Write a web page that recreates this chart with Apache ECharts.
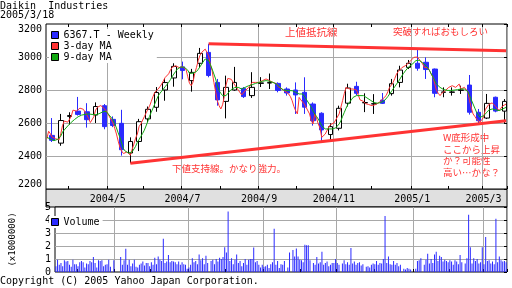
<!DOCTYPE html>
<html><head><meta charset="utf-8">
<script src="https://cdn.jsdelivr.net/npm/echarts@6.0.0/dist/echarts.min.js"></script>
<style>html,body{margin:0;padding:0;background:#fff}#c{width:512px;height:288px}</style>
</head><body><div id="c"></div><script>
// ---- axis: weekdays 2004-03-15 .. 2005-03-18 ----
const startDay = [2004, 2, 15];
const endDay = [2005, 2, 18];
const majorTickDates = ['2004-05-03','2004-07-01','2004-09-01','2004-11-01','2005-01-03','2005-03-01'];
const majorTickLabels = ['2004/5','2004/7','2004/9','2004/11','2005/1','2005/3'];
const minorTickDates = ['2004-04-01','2004-06-01','2004-08-02','2004-10-01','2004-12-01','2005-02-01'];

// ---- weekly candles (one per week, shown on the Thursday) ----
const candleOpen  = [2525,2478,2640,2672,2668,2648,2705,2622,2598,2418,2488,2625,2695,2800,2873,2940,2857,2962,3028,2846,2731,2800,2810,2766,2840,2842,2840,2806,2800,2786,2715,2659,2530,2568,2720,2822,2722,2715,2739,2778,2846,2937,2962,2968,2927,2786,2786,2798,2830,2665,2630,2756,2672];
const candleClose = [2495,2615,2645,2652,2620,2700,2578,2585,2438,2488,2608,2683,2785,2845,2943,2918,2907,3022,2888,2740,2816,2846,2760,2816,2843,2845,2797,2782,2770,2696,2614,2558,2578,2689,2812,2780,2724,2717,2719,2838,2921,2962,2932,2924,2780,2788,2788,2800,2665,2614,2719,2672,2731];
const candleLow   = [2485,2462,2590,2645,2572,2600,2562,2575,2402,2356,2430,2605,2668,2735,2820,2865,2790,2937,2877,2705,2628,2795,2752,2752,2818,2806,2786,2766,2655,2655,2584,2489,2490,2555,2700,2768,2666,2655,2715,2766,2816,2927,2917,2867,2756,2756,2766,2776,2651,2594,2624,2665,2600];
const candleHigh  = [2630,2655,2665,2758,2720,2725,2715,2640,2680,2513,2625,2700,2818,2870,2962,2972,2928,3055,3080,2867,2887,2940,2818,2908,2878,2900,2846,2816,2846,2877,2725,2665,2598,2705,2838,2850,2780,2775,2782,2867,2947,2982,3048,2998,2930,2816,2816,2826,2891,2685,2776,2760,2745];

// ---- daily 3-day MA (null = market holiday) ----
const ma3 = [
2505,2550,2535,2515,2512, 2505,2500,2498,2535,2585, 2612,2610,2605,2615,2640, 2678,2686,2672,2675,2690,
2695,2683,2665,2648,2628, 2603,2594,2638,2678,2695, 2700,2706,2702,null,2676, null,null,null,2600,2568,
2533,2490,2453,2430,2415, 2412,2424,2432,2405,2440, 2472,2508,2533,2578,2594, 2602,2638,2660,2682,2702,
2730,2760,2785,2796,2806, 2820,2836,2856,2876,2888, 2898,2920,2937,2945,2947, 2940,2936,2939,2941,2930,
2925,2880,2840,2826,2848, 2900,2937,2978,3010,3028, null,3048,3040,3008,2950, 2917,2846,2790,2735,2705,
2685,2710,2760,2830,2870, 2877,2865,2857,2830,2815, 2800,2790,2770,2780,2796, 2805,2815,2830,2846,2846,
2846,2846,2846,2850,2857, 2862,2867,2860,2857,2850, 2846,2842,2838,2820,2810, null,2800,2796,null,2776,
2760,2735,2700,2675,2655, 2755,2740,2735,2715,2695, null,2655,2614,2594,2655, 2630,2594,2570,2513,2503,
2533,2523,2574,2590,2594, 2600,2604,null,2655,2695, 2736,2780,2816,2816,2806, 2800,2806,2810,2800,2770,
2740,null,2731,2718,2715, 2712,2715,2705,2708,2712, 2718,2725,2735,2745,2755, 2766,2790,2816,2830,2846,
2870,2897,2912,null,2935, 2941,2947,2950,2965,null, null,2998,3005,3000,2988, null,2958,2937,2947,2935,
2917,2895,2877,2836,2796, 2780,2766,2780,2790,2796, 2806,2816,2824,2826,2820, 2816,2825,2836,2806,null,
2816,2826,2790,2735,2690, 2655,2640,2624,2612,2604, 2620,2634,2680,2697,2712, 2715,2722,2725,2700,2690,
2675,2690,2703,2708,2715];

// ---- daily 9-day MA ----
const ma9 = [
2513,2508,2503,2498,2493, 2495,2500,2503,2520,2545, 2558,2570,2582,2594,2604, 2614,2622,2630,2638,2645,
2648,2650,2652,2654,2655, 2654,2652,2651,2650,2651, 2656,2662,2667,null,2671, null,null,null,2620,2596,
2570,2540,2513,2478,2445, 2430,2422,2418,2420,2425, 2432,2458,2483,2500,2518, 2536,2556,2582,2610,2640,
2665,2690,2715,2740,2764, 2780,2793,2806,2820,2833, 2846,2863,2880,2897,2912, 2927,2933,2939,2941,2938,
2935,2920,2900,2897,2902, 2907,2912,2925,2940,2958, null,2988,2986,2978,2955, 2927,2897,2867,2830,2796,
2780,2766,2764,2766,2780, 2790,2803,2810,2815,2816, 2816,2812,2806,2808,2816, 2820,2826,2830,2832,2836,
2840,2843,2846,2850,2853, 2855,2857,2855,2853,2849, 2846,2841,2836,2826,2815, null,2800,2796,null,2796,
2796,2796,2790,2786,2780, 2776,2776,2776,2762,2750, null,2712,2695,2672,2655, 2640,2624,2605,2584,2572,
2564,2564,2564,2564,2564, 2566,2570,null,2594,2614, 2640,2665,2690,2712,2720, 2740,2755,2762,2766,2766,
2766,null,2766,2760,2752, 2745,2738,2730,2724,2720, 2720,2722,2724,2727,2735, 2745,2760,2776,2790,2806,
2820,2836,2850,null,2885, 2900,2915,2925,2940,null, null,2965,2978,2982,2980, null,2965,2955,2947,2932,
2917,2897,2877,2856,2836, 2826,2816,2808,2803,2800, 2798,2796,2797,2798,2799, 2800,2802,2804,2806,null,
2806,2806,2790,2766,2740, 2715,2690,2665,2650,2634, 2638,2644,2655,2665,2678, 2685,2685,2684,2680,2677,
2675,2680,2685,2690,2695];

// ---- daily volume (x1,000,000 shares) ----
const volume = [
0.45,0.95,0.55,0.70,0.45, 0.90,0.80,0.85,0.55,0.40, 0.95,0.60,0.60,0.45,0.75, 0.85,0.75,0.35,0.65,0.60,
0.85,0.75,1.15,0.70,0.35, 0.90,0.85,0.90,0.45,0.55, 0.60,0.95,0.40,null,0.90, null,null,null,1.15,0.55,
0.90,1.78,0.55,0.95,0.45, 0.65,0.95,0.40,0.35,0.55, 0.65,0.80,0.50,0.70,0.70, 0.45,0.75,0.55,1.10,0.60,
1.20,0.95,0.85,2.55,0.70, 0.80,1.30,0.75,0.85,0.80, 0.75,0.60,0.80,0.55,0.75, 0.60,0.55,0.25,0.35,0.55,
1.05,0.75,0.85,0.60,1.35, 0.90,1.05,0.60,1.25,0.70, null,0.85,0.95,0.60,1.00, 0.80,1.10,1.00,1.15,1.90,
1.50,4.66,0.85,1.05,0.60, 0.95,1.35,0.70,0.85,0.45, 0.70,1.00,0.55,0.95,1.00, 1.00,1.88,0.75,0.85,0.55,
0.35,0.55,0.40,0.45,0.55, 0.30,0.60,0.75,3.32,0.55, 0.85,0.30,0.60,0.55,0.85, null,0.35,1.50,null,1.70,
1.20,1.80,1.20,0.95,0.90, 0.75,2.10,2.05,2.05,0.90, null,0.70,0.55,1.15,0.65, 0.75,1.55,0.55,0.70,0.80,
0.45,0.55,0.70,0.70,1.00, 0.70,0.55,null,0.65,0.90, 0.60,0.75,0.55,1.85,0.65, 0.80,0.55,0.70,0.75,0.50,
0.60,null,0.40,0.45,0.35, 0.55,0.65,0.60,0.85,0.55, 0.70,0.65,1.00,4.30,0.70, 1.20,0.60,0.55,0.85,0.55,
0.70,0.45,0.55,null,0.25, 0.20,0.30,0.25,0.20,null, null,0.25,0.85,0.90,1.05, null,0.55,0.95,1.40,0.65,
1.00,0.70,1.35,1.55,0.85, 1.25,1.15,0.80,0.95,0.85, 0.75,0.90,0.80,0.55,0.90, 0.80,0.60,1.30,0.75,null,
0.65,1.05,4.40,1.90,0.65, 1.05,0.85,1.00,0.65,0.75, 1.90,0.60,2.70,0.85,0.90, 0.65,0.80,0.60,4.10,0.75,
1.20,0.90,0.80,0.85,0.75];

// ---- hand-drawn trend lines (date, price) ----
const resistanceLine = [['2004-07-22', 3080], ['2005-03-18', 3038]];
const supportLine = [['2004-05-20', 2356], ['2005-03-18', 2614]];

// ---- build category axis ----
const days = [];
for (let t = Date.UTC(startDay[0], startDay[1], startDay[2]); t <= Date.UTC(endDay[0], endDay[1], endDay[2]); t += 86400000) {
  const d = new Date(t), wd = d.getUTCDay();
  if (wd === 0 || wd === 6) continue;
  days.push(d.toISOString().slice(0, 10));
}
const majorSet = new Set(majorTickDates);
const minorSet = new Set(minorTickDates);
const labelOf = {};
majorTickDates.forEach((d, i) => labelOf[d] = majorTickLabels[i]);
const isMajor = (i) => majorSet.has(days[i]);
const isTick = (i) => majorSet.has(days[i]) || minorSet.has(days[i]);

// candles go on the Thursday of each week
const candleData = days.map(() => '-');
candleOpen.forEach((o, k) => {
  candleData[5 * k + 3] = [o, candleClose[k], candleLow[k], candleHigh[k]];
});

const MONO = 'DejaVu Sans Mono';
const JP = 'Noto Sans CJK JP';
const RED = '#ff3333', BLUE = '#2a2aff', GREEN = '#11a811', GRID = '#a8a8a8';

const chart = echarts.init(document.getElementById('c'), null, {renderer: 'canvas'});
const xCommon = {
  type: 'category', data: days, boundaryGap: true,
  axisLine: {show: false},
  axisTick: {show: true, inside: true, length: 3, interval: isTick, lineStyle: {color: '#000'}},
};
const yLabelMain = {fontFamily: MONO, fontSize: 10, color: '#000', margin: 4,
  showMinLabel: true, showMaxLabel: true, formatter: (v) => String(v),
  verticalAlignMinLabel: 'bottom', verticalAlignMaxLabel: 'top'};
const yLabelVol = {fontFamily: MONO, fontSize: 10, color: '#000', margin: 4,
  showMinLabel: true, showMaxLabel: true, lineHeight: 10, formatter: (v) => String(v)};
chart.setOption({
  animation: false,
  backgroundColor: '#fff',
  grid: [
    {left: 46, top: 24, width: 461, height: 165, show: true, borderColor: '#000', borderWidth: 1, backgroundColor: '#fff'},
    {left: 46, top: 207, width: 461, height: 65, show: true, borderColor: '#000', borderWidth: 1, backgroundColor: '#fff'}
  ],
  xAxis: [
    Object.assign({}, xCommon, {gridIndex: 0,
      axisLabel: {show: true, interval: isMajor, formatter: (v) => labelOf[v] || '', fontFamily: MONO, fontSize: 10, color: '#000', margin: 5},
      splitLine: {show: true, interval: isMajor, lineStyle: {color: GRID, width: 1}}}),
    Object.assign({}, xCommon, {gridIndex: 0, position: 'top', axisLabel: {show: false}, splitLine: {show: false}}),
    Object.assign({}, xCommon, {gridIndex: 1, axisLabel: {show: false},
      splitLine: {show: true, interval: isMajor, lineStyle: {color: GRID, width: 1}}})
  ],
  yAxis: [
    {type: 'value', gridIndex: 0, min: 2200, max: 3200, interval: 200,
      axisLine: {show: false}, axisTick: {show: false}, axisLabel: yLabelMain,
      splitLine: {show: true, showMinLine: false, showMaxLine: false, lineStyle: {color: GRID, width: 1}}},
    {type: 'value', gridIndex: 0, position: 'right', min: 2200, max: 3200, interval: 200,
      axisLine: {show: false}, axisTick: {show: true, inside: true, length: 3, lineStyle: {color: '#000'}},
      axisLabel: {show: false}, splitLine: {show: false}},
    {type: 'value', gridIndex: 1, min: 0, max: 5, interval: 1,
      name: '(x1000000)', nameLocation: 'middle', nameGap: 38, nameRotate: 90,
      nameTextStyle: {fontFamily: MONO, fontSize: 9, color: '#000'},
      axisLine: {show: false}, axisTick: {show: false}, axisLabel: yLabelVol,
      splitLine: {show: true, showMinLine: false, showMaxLine: false, lineStyle: {color: GRID, width: 1}}},
    {type: 'value', gridIndex: 1, position: 'right', min: 0, max: 5, interval: 1,
      axisLine: {show: false}, axisTick: {show: true, inside: true, length: 3, lineStyle: {color: '#000'}},
      axisLabel: {show: false}, splitLine: {show: false}}
  ],
  legend: [
    {left: 49, top: 29, orient: 'vertical', icon: 'rect', itemWidth: 7, itemHeight: 7, itemGap: 1,
      backgroundColor: '#fff', padding: [1, 3, 1, 2], selectedMode: false,
      textStyle: {fontFamily: MONO, fontSize: 10, color: '#000', lineHeight: 10},
      itemStyle: {borderColor: '#000', borderWidth: 1},
      data: [{name: '6367.T - Weekly', itemStyle: {color: BLUE}},
             {name: '3-day MA', itemStyle: {color: RED}},
             {name: '9-day MA', itemStyle: {color: GREEN}}]},
    {left: 49, top: 216, orient: 'vertical', icon: 'rect', itemWidth: 7, itemHeight: 7,
      backgroundColor: '#fff', padding: [1, 3, 1, 2], selectedMode: false,
      textStyle: {fontFamily: MONO, fontSize: 10, color: '#000', lineHeight: 10},
      itemStyle: {borderColor: '#000', borderWidth: 1},
      data: [{name: 'Volume', itemStyle: {color: BLUE}}]}
  ],
  graphic: [
    {type: 'rect', z: -1, shape: {x: 46, y: 189, width: 461, height: 18}, style: {fill: '#e0e0e0', stroke: '#000', lineWidth: 1}},
    {type: 'text', left: 0, top: 1, style: {text: 'Daikin  Industries', font: '10px ' + MONO, fill: '#000'}},
    {type: 'text', left: 0, top: 10, style: {text: '2005/3/18', font: '10px ' + MONO, fill: '#000'}},
    {type: 'text', left: 0, top: 276, style: {text: 'Copyright (C) 2005 Yahoo Japan Corporation.', font: '10px ' + MONO, fill: '#000'}},
    {type: 'text', left: 285, top: 27, style: {text: '上値抵抗線', font: '10.5px "' + JP + '"', fill: RED}},
    {type: 'text', left: 393, top: 27, style: {text: '突破すればおもしろい', font: '9.5px "' + JP + '"', fill: RED}},
    {type: 'text', left: 172, top: 164, style: {text: '下値支持線。かなり強力。', font: '9.5px "' + JP + '"', fill: RED}},
    {type: 'text', left: 443, top: 132, style: {text: 'W底形成中\nここから上昇\nか？可能性\n高い…かな？', font: '9.5px "' + JP + '"', lineHeight: 11.5, fill: RED}}
  ],
  series: [
    {name: '3-day MA', type: 'line', xAxisIndex: 0, yAxisIndex: 0, data: ma3, connectNulls: true,
      symbol: 'none', lineStyle: {color: RED, width: 1}, itemStyle: {color: RED}},
    {name: '9-day MA', type: 'line', xAxisIndex: 0, yAxisIndex: 0, data: ma9, connectNulls: true,
      symbol: 'none', lineStyle: {color: GREEN, width: 1}, itemStyle: {color: GREEN}},
    {name: '6367.T - Weekly', type: 'candlestick', xAxisIndex: 0, yAxisIndex: 0, data: candleData, barWidth: 5,
      itemStyle: {color: '#fff', color0: BLUE, borderColor: '#000', borderColor0: BLUE, borderWidth: 1}},
    {name: 'resistance', type: 'line', xAxisIndex: 0, yAxisIndex: 0, data: resistanceLine, symbol: 'none',
      lineStyle: {color: RED, width: 3}, z: 5},
    {name: 'support', type: 'line', xAxisIndex: 0, yAxisIndex: 0, data: supportLine, symbol: 'none',
      lineStyle: {color: RED, width: 3}, z: 5},
    {name: 'Volume', type: 'bar', xAxisIndex: 2, yAxisIndex: 2, data: volume, barWidth: 1,
      itemStyle: {color: BLUE}}
  ]
});
</script></body></html>
